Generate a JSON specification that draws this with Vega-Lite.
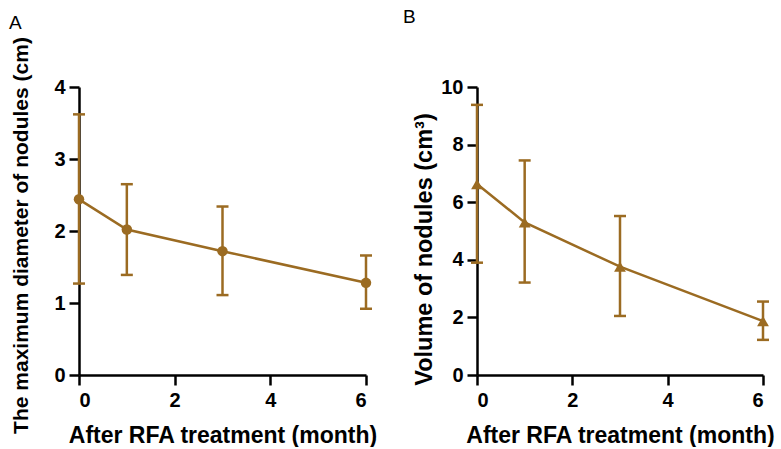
{
  "$schema": "https://vega.github.io/schema/vega-lite/v6.json",
  "padding": {"left": 9, "top": 8, "right": 5, "bottom": 0},
  "bounds": "flush",
  "spacing": 111,
  "background": "white",
  "config": {
    "view": {"stroke": null},
    "font": "Liberation Sans",
    "axis": {
      "domainColor": "black", "domainWidth": 2.5, "tickColor": "black", "tickWidth": 2.5, "tickSize": 10,
      "labelFont": "Liberation Sans", "labelFontSize": 20, "labelFontWeight": "bold", "labelColor": "black", "labelPadding": 4,
      "titleFont": "Liberation Sans", "titleFontWeight": "bold", "titleColor": "black", "grid": false
    },
    "axisX": {"labelPadding": 5},
    "title": {"fontSize": 19, "fontWeight": "normal", "anchor": "start", "frame": "group", "color": "black", "font": "Liberation Sans"}
  },
  "datasets": {
    "A": [
      {"month": 0, "mean": 2.44, "lower": 1.27, "upper": 3.62},
      {"month": 1, "mean": 2.02, "lower": 1.39, "upper": 2.65},
      {"month": 3, "mean": 1.72, "lower": 1.11, "upper": 2.34},
      {"month": 6, "mean": 1.28, "lower": 0.92, "upper": 1.66}
    ],
    "B": [
      {"month": 0, "mean": 6.63, "lower": 3.9, "upper": 9.38},
      {"month": 1, "mean": 5.3, "lower": 3.21, "upper": 7.45},
      {"month": 3, "mean": 3.76, "lower": 2.05, "upper": 5.52},
      {"month": 6, "mean": 1.87, "lower": 1.22, "upper": 2.55}
    ]
  },
  "hconcat": [
    {
      "title": {"text": "A", "dx": -70, "offset": 4},
      "width": 287, "height": 288,
      "data": {"name": "A"},
      "encoding": {
        "x": {"field": "month", "type": "quantitative", "scale": {"domain": [0, 6], "nice": false},
          "axis": {"values": [0, 2, 4, 6], "title": "After RFA treatment (month)", "titleFontSize": 23, "titlePadding": 14}}
      },
      "layer": [
        {"mark": {"type": "rule", "color": "#9B6B22", "strokeWidth": 2.5},
         "encoding": {"y": {"field": "lower", "type": "quantitative", "title": "The maximum diameter of nodules (cm)", "scale": {"domain": [0, 4], "nice": false},
           "axis": {"values": [0, 1, 2, 3, 4], "format": "d", "titleFontSize": 21, "titlePadding": 22, "titleY": 148}}, "y2": {"field": "upper"}}},
        {"mark": {"type": "tick", "orient": "horizontal", "color": "#9B6B22", "size": 12, "thickness": 2.5, "opacity": 1},
         "encoding": {"y": {"field": "lower", "type": "quantitative", "title": "The maximum diameter of nodules (cm)"}}},
        {"mark": {"type": "tick", "orient": "horizontal", "color": "#9B6B22", "size": 12, "thickness": 2.5, "opacity": 1},
         "encoding": {"y": {"field": "upper", "type": "quantitative", "title": "The maximum diameter of nodules (cm)"}}},
        {"mark": {"type": "line", "color": "#9B6B22", "strokeWidth": 2.5},
         "encoding": {"y": {"field": "mean", "type": "quantitative", "title": "The maximum diameter of nodules (cm)"}}},
        {"mark": {"type": "point", "shape": "circle", "filled": true, "color": "#9B6B22", "size": 110, "opacity": 1},
         "encoding": {"y": {"field": "mean", "type": "quantitative", "title": "The maximum diameter of nodules (cm)"}}}
      ]
    },
    {
      "title": {"text": "B", "dx": -74, "offset": 50},
      "width": 286, "height": 288,
      "data": {"name": "B"},
      "encoding": {
        "x": {"field": "month", "type": "quantitative", "scale": {"domain": [0, 6], "nice": false},
          "axis": {"values": [0, 2, 4, 6], "title": "After RFA treatment (month)", "titleFontSize": 23, "titlePadding": 14}}
      },
      "layer": [
        {"mark": {"type": "rule", "color": "#9B6B22", "strokeWidth": 2.5},
         "encoding": {"y": {"field": "lower", "type": "quantitative", "title": "Volume of nodules (cm³)", "scale": {"domain": [0, 10], "nice": false},
           "axis": {"values": [0, 2, 4, 6, 8, 10], "format": "d", "titleFontSize": 23.5, "titlePadding": 4, "titleY": 162}}, "y2": {"field": "upper"}}},
        {"mark": {"type": "tick", "orient": "horizontal", "color": "#9B6B22", "size": 12, "thickness": 2.5, "opacity": 1},
         "encoding": {"y": {"field": "lower", "type": "quantitative", "title": "Volume of nodules (cm³)"}}},
        {"mark": {"type": "tick", "orient": "horizontal", "color": "#9B6B22", "size": 12, "thickness": 2.5, "opacity": 1},
         "encoding": {"y": {"field": "upper", "type": "quantitative", "title": "Volume of nodules (cm³)"}}},
        {"mark": {"type": "line", "color": "#9B6B22", "strokeWidth": 2.5},
         "encoding": {"y": {"field": "mean", "type": "quantitative", "title": "Volume of nodules (cm³)"}}},
        {"mark": {"type": "point", "shape": "triangle-up", "filled": true, "color": "#9B6B22", "size": 140, "opacity": 1},
         "encoding": {"y": {"field": "mean", "type": "quantitative", "title": "Volume of nodules (cm³)"}}}
      ]
    }
  ]
}
